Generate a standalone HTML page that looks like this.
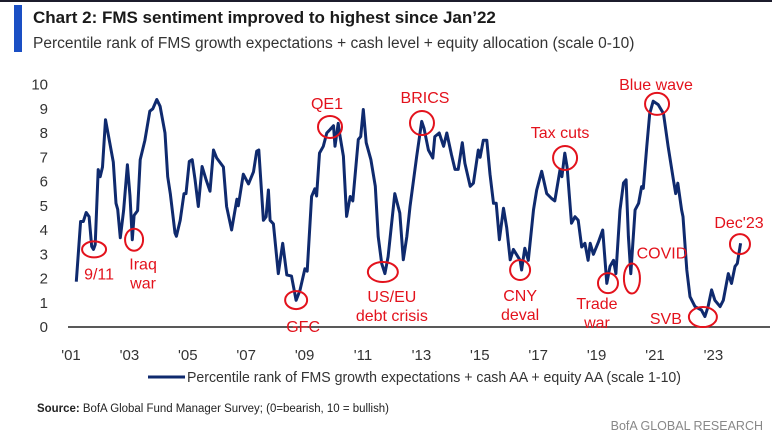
<!DOCTYPE html>
<html><head><meta charset="utf-8">
<style>
body{margin:0;background:#fff;width:772px;height:437px;overflow:hidden;font-family:"Liberation Sans",sans-serif}
svg{display:block}
.ann{fill:#e3121c;font-family:"Liberation Sans Narrow","Liberation Sans",sans-serif;font-size:16px;text-anchor:middle}
.tk{fill:#333;font-family:"Liberation Sans Narrow","Liberation Sans",sans-serif;font-size:15px}
</style></head><body>
<svg id="chart" width="772" height="437">
<rect x="0" y="0" width="772" height="2" fill="#1c1c2c"/>
<rect x="14" y="5" width="8" height="47" fill="#1a4fc4"/>
<text x="33" y="23" font-size="17" font-weight="bold" fill="#1a1a1a">Chart 2: FMS sentiment improved to highest since Jan’22</text>
<text x="33" y="48" font-size="15.5" fill="#333">Percentile rank of FMS growth expectations + cash level + equity allocation (scale 0-10)</text>
<g id="yticks"></g><g id="xticks"></g>
<line x1="68" y1="327" x2="770" y2="327" stroke="#222" stroke-width="1.5"/>
<path id="series" fill="none" stroke="#0f2a6e" stroke-width="3" stroke-linejoin="round"/>
<g id="ann" fill="none" stroke="#e3121c" stroke-width="2"></g>
<line x1="148" y1="377" x2="185" y2="377" stroke="#0f2a6e" stroke-width="3"/>
<text x="187" y="382" class="tk" font-size="15.5" textLength="494" lengthAdjust="spacingAndGlyphs">Percentile rank of FMS growth expectations + cash AA + equity AA (scale 1-10)</text>
<text x="37" y="412" font-size="11.5" fill="#222" font-family="Liberation Sans Narrow, Liberation Sans, sans-serif" textLength="352" lengthAdjust="spacingAndGlyphs"><tspan font-weight="bold">Source:</tspan> BofA Global Fund Manager Survey; (0=bearish, 10 = bullish)</text>
<text x="763" y="430" text-anchor="end" font-size="12.5" fill="#888" font-family="Liberation Sans Narrow, Liberation Sans, sans-serif">BofA GLOBAL RESEARCH</text>
</svg>
<script>
const dates=[2001.18,2001.33,2001.42,2001.52,2001.62,2001.71,2001.77,2001.83,2001.93,2002.00,2002.08,2002.18,2002.28,2002.45,2002.54,2002.60,2002.69,2002.80,2002.93,2003.02,2003.10,2003.16,2003.28,2003.37,2003.53,2003.70,2003.80,2003.94,2004.05,2004.22,2004.31,2004.40,2004.56,2004.61,2004.74,2004.87,2004.94,2005.05,2005.15,2005.25,2005.36,2005.49,2005.62,2005.76,2005.88,2005.99,2006.22,2006.33,2006.50,2006.68,2006.73,2006.90,2007.08,2007.25,2007.36,2007.43,2007.59,2007.68,2007.76,2007.82,2007.93,2008.10,2008.25,2008.39,2008.55,2008.71,2008.84,2009.01,2009.09,2009.24,2009.35,2009.41,2009.51,2009.64,2009.76,2009.87,2009.99,2010.04,2010.15,2010.21,2010.33,2010.44,2010.56,2010.65,2010.84,2010.92,2011.01,2011.11,2011.27,2011.42,2011.52,2011.64,2011.75,2011.86,2012.09,2012.26,2012.38,2012.50,2012.61,2012.84,2013.01,2013.09,2013.24,2013.39,2013.46,2013.61,2013.76,2013.87,2014.03,2014.15,2014.26,2014.40,2014.49,2014.67,2014.78,2014.95,2015.01,2015.12,2015.24,2015.35,2015.47,2015.56,2015.67,2015.81,2015.92,2016.04,2016.15,2016.38,2016.43,2016.54,2016.66,2016.84,2016.95,2017.12,2017.29,2017.46,2017.57,2017.75,2017.81,2017.91,2017.99,2018.14,2018.26,2018.37,2018.49,2018.60,2018.71,2018.78,2018.89,2019.06,2019.21,2019.35,2019.46,2019.58,2019.66,2019.80,2019.92,2020.01,2020.09,2020.17,2020.32,2020.44,2020.54,2020.60,2020.72,2020.82,2020.94,2021.11,2021.29,2021.45,2021.63,2021.71,2021.78,2021.91,2021.96,2022.09,2022.20,2022.37,2022.59,2022.71,2022.82,2022.94,2023.05,2023.23,2023.34,2023.51,2023.62,2023.74,2023.82,2023.93];
const values=[1.87,4.35,4.35,4.72,4.55,3.32,3.2,3.4,6.49,6.2,6.6,8.55,7.9,6.8,5.1,4.85,3.68,4.8,6.69,5.4,3.6,4.6,4.8,6.9,7.7,8.9,9.0,9.38,9.1,8.0,6.2,5.5,3.88,3.74,4.4,5.5,5.5,6.83,6.9,6.06,4.97,6.62,6.1,5.6,7.3,6.97,6.6,4.97,4.0,5.27,5.0,6.3,5.9,6.4,7.25,7.3,4.4,4.55,5.65,4.4,4.25,2.2,3.45,2.15,2.1,1.1,1.5,2.4,2.3,5.38,5.7,5.4,7.17,7.45,8.0,8.14,8.3,7.45,8.4,7.9,7.04,4.56,5.38,5.2,7.73,7.85,8.97,7.6,6.9,5.8,3.73,2.62,2.2,2.9,5.5,4.7,2.77,3.72,4.96,7.04,8.48,8.2,7.3,6.97,7.85,8.0,7.45,8.0,7.1,6.5,6.5,7.6,6.75,5.8,5.93,7.3,7.0,7.7,7.7,6.3,5.1,5.1,3.6,4.9,4.1,2.77,3.2,2.75,2.35,3.25,2.75,4.83,5.65,6.42,5.5,5.3,5.2,6.5,6.2,7.17,6.6,4.28,4.55,4.4,3.3,3.45,2.75,3.45,3.0,3.5,4.0,1.8,2.5,2.75,2.2,4.83,5.94,6.07,3.73,2.2,4.83,5.1,5.79,5.72,7.45,8.8,9.31,9.17,8.8,7.45,6.07,5.5,5.93,4.83,4.55,2.35,1.25,0.84,0.7,0.43,0.84,1.53,1.1,0.84,1.1,2.2,1.8,2.5,2.62,3.45];
const yTicks=[0,1,2,3,4,5,6,7,8,9,10];
const xTickYears=[2001,2003,2005,2007,2009,2011,2013,2015,2017,2019,2021,2023];
const xTickLabels=["'01","'03","'05","'07","'09","'11","'13","'15","'17","'19","'21","'23"];
const annYears=[2001.79,2003.16,2008.71,2009.87,2011.68,2013.02,2016.38,2017.92,2019.39,2020.21,2021.07,2022.64,2023.91];
const annValues=[3.2,3.6,1.11,8.25,2.27,8.41,2.35,6.97,1.81,2.0,9.2,0.41,3.42];
const annLabels=[["9/11"],["Iraq","war"],["GFC"],["QE1"],["US/EU","debt crisis"],["BRICS"],["CNY","deval"],["Tax cuts"],["Trade","war"],["COVID"],["Blue wave"],["SVB"],["Dec'23"]];
const NS='http://www.w3.org/2000/svg';
const x=yr=>71+(yr-2001)*29.2;
const y=v=>327-v*24.25;
const mk=(t,a,p)=>{const e=document.createElementNS(NS,t);for(const k in a)e.setAttribute(k,a[k]);p.appendChild(e);return e;};
const yg=document.getElementById('yticks');
yTicks.forEach(v=>{const t=mk('text',{x:48,y:y(v)+5,'text-anchor':'end','class':'tk','font-size':16},yg);t.textContent=v;

});
const xg=document.getElementById('xticks');
xTickYears.forEach((yr,i)=>{const t=mk('text',{x:x(yr),y:360,'text-anchor':'middle','class':'tk','font-size':15.5},xg);t.textContent=xTickLabels[i];

});
document.getElementById('series').setAttribute('d',dates.map((d,i)=>(i?'L':'M')+x(d).toFixed(1)+','+y(values[i]).toFixed(1)).join(''));
const rx=[12,9,11,12,15,12,10,12,10,8,12,14,10],ry=[8,11,9,11,10,12,10,12,10,15,11,10,10];
const ldx=[5,9,7,-3,9,3,0,-5,-11,30,-1,-37,-1],ldy=[30,30,32,-18,30,-20,31,-20,26,-20,-14,7,-16];
const ag=document.getElementById('ann');
annYears.forEach((yr,i)=>{const cx=x(yr),cy=y(annValues[i]);
const c=mk('ellipse',{cx:cx,cy:cy,rx:rx[i],ry:ry[i]},ag);


annLabels[i].forEach((ln,j)=>{const t=mk('text',{x:cx+ldx[i],y:cy+ldy[i]+j*19,'class':'ann',stroke:'none'},ag);t.textContent=ln;

});});
</script>
</body></html>
